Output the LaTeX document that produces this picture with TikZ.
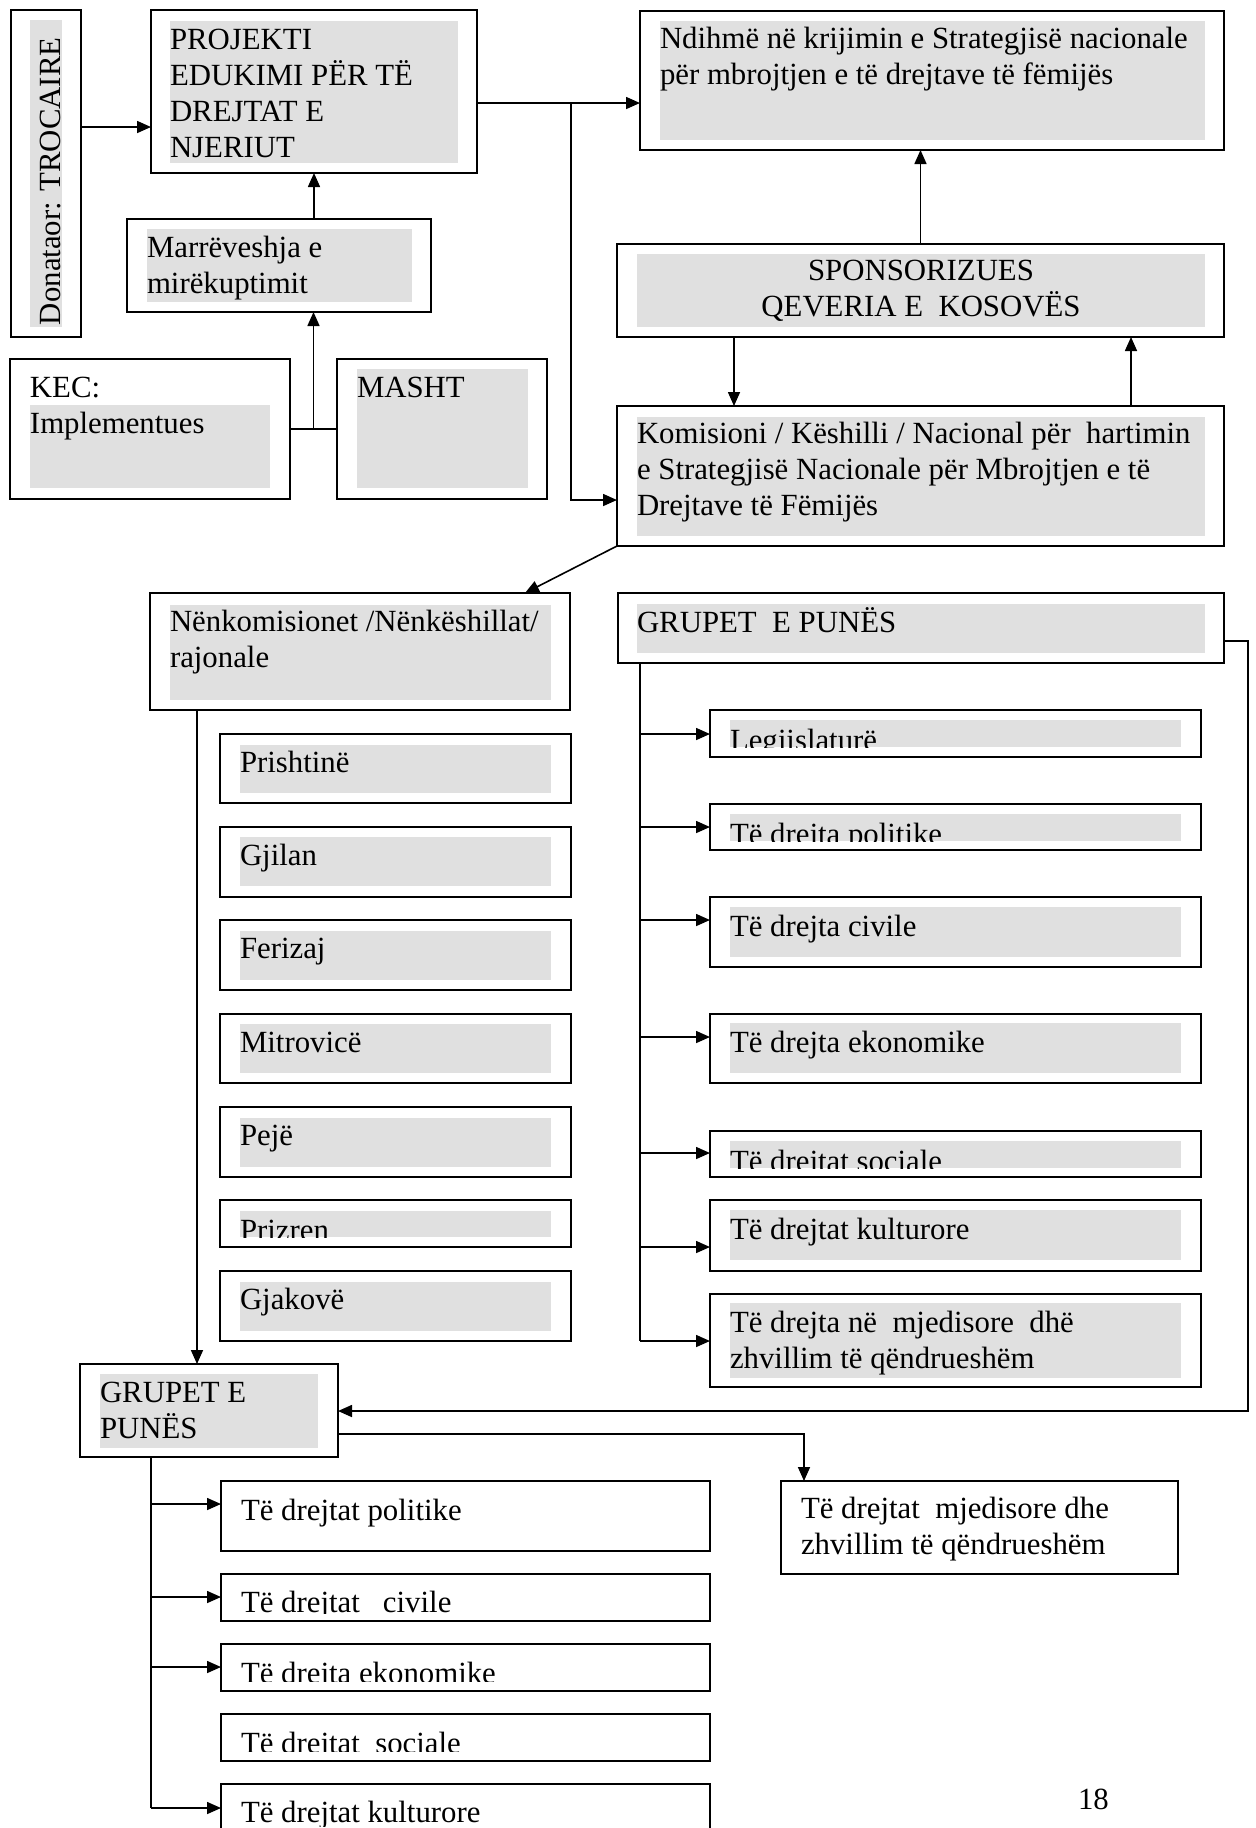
\documentclass[tikz,border=0pt]{standalone}
\usepackage{fontspec}
\setmainfont{Liberation Serif}
\usetikzlibrary{fit,arrows.meta,calc}
\definecolor{shade}{HTML}{E0E0E0}
\newcommand\ml[1]{\begin{tabular}[t]{@{}l@{}}#1\end{tabular}}
\newcommand\mc[1]{\begin{tabular}[t]{@{}c@{}}#1\end{tabular}}
\newcommand\bx[5]{\node[box, fit={(#2,#3) (#4,#5)}] (#1) {};}
\newcommand\gr[5]{\node[shadebox, fit={(#2,#3) (#4,#5)}] (#1) {};}
\begin{document}
\begin{tikzpicture}[x=0.5pt,y=-0.5pt,
  box/.style={draw=black, line width=0.8pt, inner sep=0pt, outer sep=0pt},
  shadebox/.style={fill=shade, draw=none, inner sep=0pt, outer sep=0pt},
  txt/.style={anchor=base west, inner sep=0pt, outer sep=0pt, font=\fontsize{15.4}{18}\selectfont},
  ctxt/.style={txt, anchor=base},
  conn/.style={line width=0.8pt},
  arr/.style={conn, -{Triangle[length=7pt,width=6pt]}}]
\fill[white] (0,0) rectangle (1255,1828);
\useasboundingbox (0,0) rectangle (1255,1828);

% Donator
\bx{don}{11}{10}{81}{337}
\gr{gdon}{30}{20}{62}{327}
\node[txt, rotate=90] (tdon) at (61,325) {Donataor: TROCAIRE};

% Projekti
\bx{proj}{151}{10}{477}{173}
\gr{gproj}{170}{21}{458}{163}
\node[txt] (tproj) at (170,49) {\ml{PROJEKTI\\EDUKIMI PËR TË\\DREJTAT E\\NJERIUT}};

% Marreveshja
\bx{marr}{127}{219}{431}{312}
\gr{gmarr}{147}{229}{412}{302}
\node[txt] (tmarr) at (147,257) {\ml{Marrëveshja e\\mirëkuptimit}};

% KEC
\bx{kec}{10}{359}{290}{499}
\gr{gkec}{30}{405}{270}{488}
\node[txt] (tkec) at (30,397) {\ml{KEC:\\Implementues}};

% MASHT
\bx{masht}{337}{359}{547}{499}
\gr{gmasht}{357}{369}{528}{488}
\node[txt] (tmasht) at (357,397) {MASHT};

% Ndihme
\bx{ndih}{640}{11}{1224}{150}
\gr{gndih}{660}{21}{1205}{140}
\node[txt] (tndih) at (660,48) {\ml{Ndihmë në krijimin e Strategjisë nacionale\\për mbrojtjen e të drejtave të fëmijës}};

% Sponsor
\bx{spons}{617}{244}{1224}{337}
\gr{gspons}{637}{254}{1205}{327}
\node[ctxt] (tspons) at (921,280) {\mc{SPONSORIZUES\\QEVERIA E\ \ KOSOVËS}};

% Komisioni
\bx{kom}{617}{406}{1224}{546}
\gr{gkom}{637}{417}{1205}{536}
\node[txt] (tkom) at (637,443) {\ml{Komisioni / Këshilli / Nacional për\ \ hartimin\\e Strategjisë Nacionale për Mbrojtjen e të\\Drejtave të Fëmijës}};

% Nenkomisionet
\bx{nen}{150}{593}{570}{710}
\gr{gnen}{170}{605}{551}{700}
\node[txt] (tnen) at (170,631) {\ml{Nënkomisionet /Nënkëshillat/\\rajonale}};

% Regions
\bx{reg1}{220}{734}{571}{803}
\gr{greg1}{240}{745}{551}{793}
\begin{scope}\clip (greg1.south west) rectangle (greg1.north east);
\node[txt] (treg1) at (240,772) {Prishtinë};\end{scope}
\bx{reg2}{220}{827}{571}{897}
\gr{greg2}{240}{837}{551}{886}
\begin{scope}\clip (greg2.south west) rectangle (greg2.north east);
\node[txt] (treg2) at (240,865) {Gjilan};\end{scope}
\bx{reg3}{220}{920}{571}{990}
\gr{greg3}{240}{931}{551}{980}
\begin{scope}\clip (greg3.south west) rectangle (greg3.north east);
\node[txt] (treg3) at (240,958) {Ferizaj};\end{scope}
\bx{reg4}{220}{1014}{571}{1083}
\gr{greg4}{240}{1024}{551}{1073}
\begin{scope}\clip (greg4.south west) rectangle (greg4.north east);
\node[txt] (treg4) at (240,1052) {Mitrovicë};\end{scope}
\bx{reg5}{220}{1107}{571}{1177}
\gr{greg5}{240}{1118}{551}{1167}
\begin{scope}\clip (greg5.south west) rectangle (greg5.north east);
\node[txt] (treg5) at (240,1145) {Pejë};\end{scope}
\bx{reg6}{220}{1200}{571}{1247}
\gr{greg6}{240}{1211}{551}{1237}
\begin{scope}\clip (greg6.south west) rectangle (greg6.north east);
\node[txt] (treg6) at (240,1240) {Prizren};\end{scope}
\bx{reg7}{220}{1271}{571}{1341}
\gr{greg7}{240}{1282}{551}{1331}
\begin{scope}\clip (greg7.south west) rectangle (greg7.north east);
\node[txt] (treg7) at (240,1309) {Gjakovë};\end{scope}

% Right working groups header
\bx{gpr}{618}{593}{1224}{663}
\gr{ggpr}{637}{604}{1205}{653}
\node[txt] (tgpr) at (637,632) {GRUPET\ \ E PUNËS};

% Right sub boxes
\bx{r1}{710}{710}{1201}{757}
\gr{gr1}{730}{720}{1181}{747}
\begin{scope}\clip (gr1.south west) rectangle (gr1.north east);
\node[txt] (tr1) at (730,750) {Legjislaturë};\end{scope}
\bx{r2}{710}{804}{1201}{850}
\gr{gr2}{730}{814}{1181}{841}
\begin{scope}\clip (gr2.south west) rectangle (gr2.north east);
\node[txt] (tr2) at (730,844) {Të drejta politike};\end{scope}
\bx{r3}{710}{897}{1201}{967}
\gr{gr3}{730}{907}{1181}{957}
\begin{scope}\clip (gr3.south west) rectangle (gr3.north east);
\node[txt] (tr3) at (730,936) {Të drejta civile};\end{scope}
\bx{r4}{710}{1014}{1201}{1083}
\gr{gr4}{730}{1023}{1181}{1073}
\begin{scope}\clip (gr4.south west) rectangle (gr4.north east);
\node[txt] (tr4) at (730,1052) {Të drejta ekonomike};\end{scope}
\bx{r5}{710}{1131}{1201}{1177}
\gr{gr5}{730}{1141}{1181}{1168}
\begin{scope}\clip (gr5.south west) rectangle (gr5.north east);
\node[txt] (tr5) at (730,1171) {Të drejtat sociale};\end{scope}
\bx{r6}{710}{1200}{1201}{1271}
\gr{gr6}{730}{1210}{1181}{1260}
\begin{scope}\clip (gr6.south west) rectangle (gr6.north east);
\node[txt] (tr6) at (730,1239) {Të drejtat kulturore};\end{scope}
\bx{r7}{710}{1294}{1201}{1387}
\gr{gr7}{730}{1303}{1181}{1378}
\begin{scope}\clip (gr7.south west) rectangle (gr7.north east);
\node[txt] (tr7) at (730,1332) {\ml{Të drejta në\ \ mjedisore\ \ dhë\\zhvillim të qëndrueshëm}};\end{scope}

% Left working groups
\bx{gpl}{80}{1364}{338}{1457}
\gr{ggpl}{100}{1374}{318}{1448}
\node[txt] (tgpl) at (100,1402) {\ml{GRUPET E\\PUNËS}};

% Bottom-left boxes
\bx{l1}{221}{1481}{710}{1551}
\node[txt] (tl1) at (241,1520) {Të drejtat politike};
\bx{l2}{221}{1574}{710}{1621}
\begin{scope}\clip (231,1579) rectangle (700,1613);
\node[txt] (tl2) at (241,1612) {Të drejtat\ \ \ civile};\end{scope}
\bx{l3}{221}{1644}{710}{1691}
\begin{scope}\clip (231,1649) rectangle (700,1681);
\node[txt] (tl3) at (241,1683) {Të drejta ekonomike};\end{scope}
\bx{l4}{221}{1714}{710}{1761}
\begin{scope}\clip (231,1719) rectangle (700,1751);
\node[txt] (tl4) at (241,1753) {Të drejtat\ \ sociale};\end{scope}
\bx{l5}{221}{1784}{710}{1845}
\begin{scope}\clip (231,1789) rectangle (700,1826);
\node[txt] (tl5) at (241,1822) {Të drejtat kulturore};\end{scope}

% Mjedisore box
\bx{mjed}{781}{1481}{1178}{1574}
\node[txt] (tmjed) at (801,1518) {\ml{Të drejtat\ \ mjedisore dhe\\zhvillim të qëndrueshëm}};

% page number
\node[txt] (pg) at (1078,1809) {18};

% ---------- connectors ----------
\coordinate (cD) at (0,127);
\draw[arr] (don.east |- cD) -- (proj.west |- cD);
\draw[arr] (marr.north -| proj.south) -- (proj.south);
\draw[conn] (kec.east) -- (masht.west);
\coordinate (jK) at ($(kec.east)!0.5!(masht.west)$);
\draw[arr] (jK) -- (jK |- marr.south);

\coordinate (cP) at (571,103);
\draw[arr] (proj.east |- cP) -- (ndih.west |- cP);
\coordinate (cK) at (0,500);
\draw[arr] (cP) |- (kom.west |- cK);

\draw[arr] (spons.north) -- (spons.north |- ndih.south);
\coordinate (cS1) at (734,0);
\coordinate (cS2) at (1131,0);
\draw[arr] (spons.south -| cS1) -- (kom.north -| cS1);
\draw[arr] (kom.north -| cS2) -- (spons.south -| cS2);

\coordinate (cN) at (525,0);
\draw[arr] (kom.south west) -- (nen.north -| cN);
\coordinate (cL) at (197,0);
\draw[arr] (nen.south -| cL) -- (gpl.north -| cL);

% right trunk
\coordinate (cR) at (640,0);
\coordinate (yr1) at (0,734);
\coordinate (yr2) at (0,827);
\coordinate (yr3) at (0,920);
\coordinate (yr4) at (0,1037);
\coordinate (yr5) at (0,1153);
\coordinate (yr6) at (0,1247);
\coordinate (yr7) at (0,1341);
\draw[conn] (gpr.south -| cR) -- (cR |- yr7);
\foreach \i in {1,...,7} {\draw[arr] (cR |- yr\i) -- (r\i.west |- yr\i);}

% loop back
\coordinate (lpT) at (1248,641);
\coordinate (lpB) at (1248,1411);
\draw[arr] (gpr.east |- lpT) -- (lpT) -- (lpB) -- (gpl.east |- lpB);

\coordinate (mj) at (804,1434);
\draw[arr] (gpl.east |- mj) -- (mj) -- (mj |- mjed.north);

% left trunk
\coordinate (cB) at (151,0);
\coordinate (yl1) at (0,1504);
\coordinate (yl2) at (0,1597);
\coordinate (yl3) at (0,1667);
\coordinate (yl5) at (0,1808);
\draw[conn] (gpl.south -| cB) -- (cB |- yl5);
\draw[arr] (cB |- yl1) -- (l1.west |- yl1);
\draw[arr] (cB |- yl2) -- (l2.west |- yl2);
\draw[arr] (cB |- yl3) -- (l3.west |- yl3);
\draw[arr] (cB |- yl5) -- (l5.west |- yl5);
\end{tikzpicture}
\end{document}
